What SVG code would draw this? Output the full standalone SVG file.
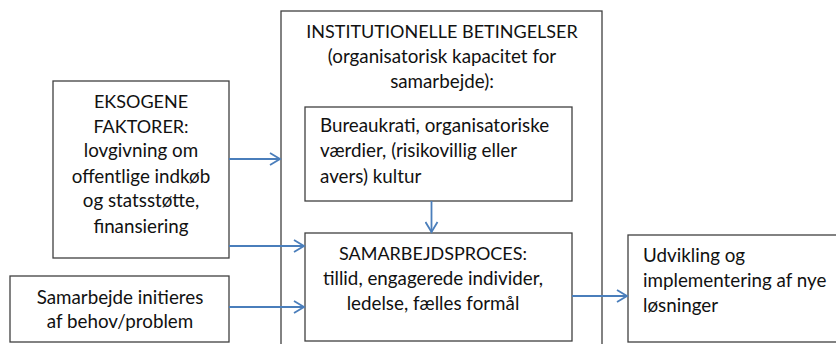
<svg xmlns="http://www.w3.org/2000/svg" width="836" height="344" viewBox="0 0 836 344">
<style>
.box{fill:#fff;stroke:#404040;stroke-width:1.3}
.t{font-family:"Lato","Liberation Sans",sans-serif;font-size:18.8px;fill:#111}
.k{font-size:18px}
.c{text-anchor:middle}
.conn path{fill:none;stroke:#4a7ebb;stroke-width:1.8}
</style>
<defs>
<marker id="ah" markerWidth="14" markerHeight="14" refX="11" refY="7" orient="auto" markerUnits="userSpaceOnUse">
<path d="M1,1 L11,7 L1,13" fill="none" stroke="#4a7ebb" stroke-width="1.8"/>
</marker>
</defs>
<rect width="836" height="344" fill="#fff"/>
<g id="institutionelle">
<rect class="box" x="281" y="11" width="321" height="345"/>
<text class="t c k" x="442" y="38">INSTITUTIONELLE BETINGELSER</text>
<text class="t c" x="442" y="63">(organisatorisk kapacitet for</text>
<text class="t c" x="442" y="88">samarbejde):</text>
</g>
<g id="bureaukrati">
<rect class="box" x="305" y="107" width="267" height="94"/>
<text class="t" x="320" y="132">Bureaukrati, organisatoriske</text>
<text class="t" x="320" y="157">værdier, (risikovillig eller</text>
<text class="t" x="320" y="183">avers) kultur</text>
</g>
<g id="samarbejdsproces">
<rect class="box" x="305" y="233" width="267" height="108"/>
<text class="t c k" x="433" y="260">SAMARBEJDSPROCES:</text>
<text class="t c" x="433" y="285">tillid, engagerede individer,</text>
<text class="t c" x="433" y="310">ledelse, fælles formål</text>
</g>
<g id="eksogene">
<rect class="box" x="53" y="81" width="176" height="177"/>
<text class="t c k" x="141" y="108">EKSOGENE</text>
<text class="t c k" x="141" y="133">FAKTORER:</text>
<text class="t c" x="141" y="157">lovgivning om</text>
<text class="t c" x="141" y="183">offentlige indkøb</text>
<text class="t c" x="141" y="207">og statsstøtte,</text>
<text class="t c" x="141" y="233">finansiering</text>
</g>
<g id="initieres">
<rect class="box" x="10" y="276" width="219" height="66"/>
<text class="t c" x="120" y="304">Samarbejde initieres</text>
<text class="t c" x="120" y="328">af behov/problem</text>
</g>
<g id="udvikling">
<rect class="box" x="628" y="235" width="220" height="107"/>
<text class="t" x="643" y="262">Udvikling og</text>
<text class="t" x="643" y="287">implementering af nye</text>
<text class="t" x="643" y="312">løsninger</text>
</g>
<g id="connectors" class="conn">
<path d="M229,159 H280" marker-end="url(#ah)"/>
<path d="M229,246 H304" marker-end="url(#ah)"/>
<path d="M229,307 H304" marker-end="url(#ah)"/>
<path d="M431.5,201 V232" marker-end="url(#ah)"/>
<path d="M572,296 H627" marker-end="url(#ah)"/>
</g>
</svg>
